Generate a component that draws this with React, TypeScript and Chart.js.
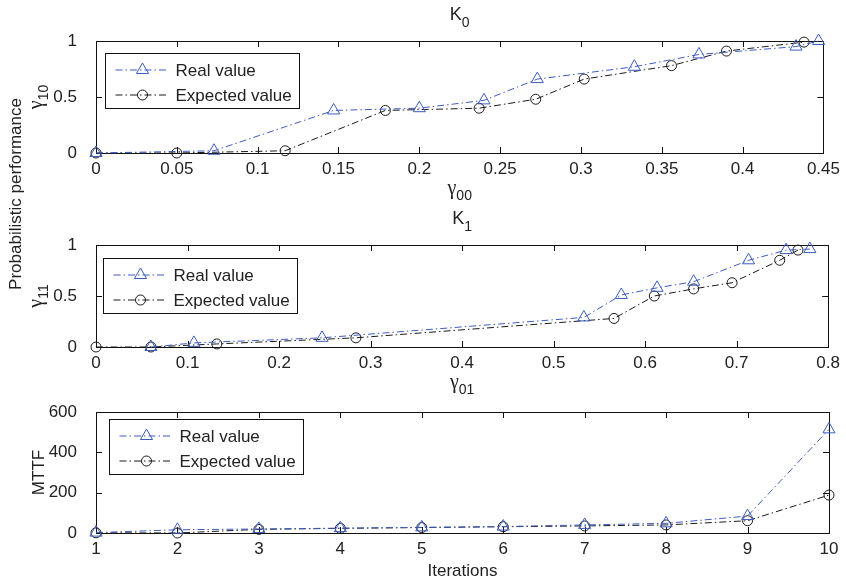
import { useEffect, useRef } from "react";
import { Chart, registerables } from "chart.js";

Chart.register(...registerables);

// ---------------- data ----------------
const seriesLabels = ["Real value", "Expected value"];

// Panel K0
const k0RealX = [0, 0.073, 0.147, 0.2, 0.24, 0.273, 0.333, 0.373, 0.433, 0.447];
const k0RealY = [0, 0.02, 0.38, 0.4, 0.47, 0.66, 0.77, 0.88, 0.95, 1.0];
const k0ExpX = [0, 0.05, 0.117, 0.179, 0.237, 0.272, 0.302, 0.356, 0.39, 0.438];
const k0ExpY = [0, 0, 0.02, 0.38, 0.4, 0.48, 0.66, 0.78, 0.91, 0.99];

// Panel K1
const k1RealX = [0.06, 0.107, 0.247, 0.533, 0.574, 0.613, 0.653, 0.713, 0.754, 0.78];
const k1RealY = [0, 0.04, 0.09, 0.29, 0.51, 0.58, 0.64, 0.85, 0.95, 0.96];
const k1ExpX = [0, 0.06, 0.132, 0.284, 0.566, 0.61, 0.653, 0.695, 0.747, 0.767];
const k1ExpY = [0, 0, 0.03, 0.09, 0.28, 0.5, 0.57, 0.63, 0.85, 0.95];

// Panel MTTF
const iterations = [1, 2, 3, 4, 5, 6, 7, 8, 9, 10];
const mttfReal = [2, 16, 20, 24, 28, 32, 40, 48, 84, 514];
const mttfExp = [1, 0, 18, 23, 27, 31, 35, 40, 61, 188];

// Tick values
const k0XTicks = [0, 0.05, 0.1, 0.15, 0.2, 0.25, 0.3, 0.35, 0.4, 0.45];
const k1XTicks = [0, 0.1, 0.2, 0.3, 0.4, 0.5, 0.6, 0.7, 0.8];
const probYTicks = [0, 0.5, 1];
const iterXTicks = [1, 2, 3, 4, 5, 6, 7, 8, 9, 10];
const mttfYTicks = [0, 200, 400, 600];

// ---------------- style ----------------
const W = 846;
const H = 581;
const PLOT_LEFT = 96;
const PLOT_RIGHT = 829;
const Y_AXIS_W = 60;
const X_AXIS_H = 30;
const FONT = "'Liberation Sans', Arial, Helvetica, sans-serif";
const GREEK = "'Liberation Serif', 'DejaVu Serif', serif";
const TEXT = "#222";
const BLUE = "#3d5cc2";
const BLACK = "#1a1a1a";
const DASH = [7, 3, 1.5, 3];

type Panel = {
  top: number;
  bottom: number;
  xMin: number;
  xMax: number;
  yMin: number;
  yMax: number;
  xTicks: number[];
  yTicks: number[];
  real: { x: number; y: number }[];
  exp: { x: number; y: number }[];
  title?: [string, string];
  xLabel: [string, string];
  yLabel: [string, string];
  legendOff: [number, number];
  sideLabel?: string;
};

const zip = (xs: number[], ys: number[]) => xs.map((x, i) => ({ x, y: ys[i] }));

const panels: Panel[] = [
  {
    top: 41, bottom: 153, xMin: 0, xMax: 0.45, yMin: 0, yMax: 1,
    xTicks: k0XTicks, yTicks: probYTicks,
    real: zip(k0RealX, k0RealY), exp: zip(k0ExpX, k0ExpY),
    title: ["K", "0"], xLabel: ["γ", "00"], yLabel: ["γ", "10"],
    legendOff: [9, 12], sideLabel: "Probabilistic performance",
  },
  {
    top: 245, bottom: 347, xMin: 0, xMax: 0.8, yMin: 0, yMax: 1,
    xTicks: k1XTicks, yTicks: probYTicks,
    real: zip(k1RealX, k1RealY), exp: zip(k1ExpX, k1ExpY),
    title: ["K", "1"], xLabel: ["γ", "01"], yLabel: ["γ", "11"],
    legendOff: [7, 13],
  },
  {
    top: 412, bottom: 533, xMin: 1, xMax: 10, yMin: 0, yMax: 600,
    xTicks: iterXTicks, yTicks: mttfYTicks,
    real: zip(iterations, mttfReal), exp: zip(iterations, mttfExp),
    xLabel: ["Iterations", ""], yLabel: ["MTTF", ""],
    legendOff: [13, 7],
  },
];

function drawSub(
  ctx: CanvasRenderingContext2D, base: string, sub: string,
  x: number, y: number, size: number, subSize: number, subDrop: number, baseFamily: string = FONT,
) {
  ctx.font = `${size}px ${baseFamily}`;
  const wb = ctx.measureText(base).width;
  ctx.font = `${subSize}px ${FONT}`;
  const ws = sub ? ctx.measureText(sub).width : 0;
  const start = x - (wb + ws) / 2;
  ctx.textAlign = "left";
  ctx.textBaseline = "alphabetic";
  ctx.fillStyle = TEXT;
  ctx.font = `${size}px ${baseFamily}`;
  ctx.fillText(base, start, y);
  if (sub) {
    ctx.font = `${subSize}px ${FONT}`;
    ctx.fillText(sub, start + wb, y + subDrop);
  }
}

function drawMarker(ctx: CanvasRenderingContext2D, style: string, x: number, y: number, r: number, color: string) {
  ctx.save();
  ctx.setLineDash([]);
  ctx.strokeStyle = color;
  ctx.lineWidth = 1;
  ctx.beginPath();
  if (style === "triangle") {
    let rad = 0;
    ctx.moveTo(x + Math.sin(rad) * r, y - Math.cos(rad) * r);
    rad += (2 * Math.PI) / 3;
    ctx.lineTo(x + Math.sin(rad) * r, y - Math.cos(rad) * r);
    rad += (2 * Math.PI) / 3;
    ctx.lineTo(x + Math.sin(rad) * r, y - Math.cos(rad) * r);
    ctx.closePath();
  } else {
    ctx.arc(x, y, r, 0, Math.PI * 2);
  }
  ctx.stroke();
  ctx.restore();
}

function makePlugin(p: Panel) {
  return {
    id: "matlabDecor",
    beforeDatasetsDraw(chart: any) {
      const { ctx, chartArea: a, scales } = chart;
      ctx.save();
      ctx.strokeStyle = "#111";
      ctx.lineWidth = 1;
      ctx.setLineDash([]);
      ctx.strokeRect(Math.round(a.left) + 0.5, Math.round(a.top) + 0.5, Math.round(a.right - a.left), Math.round(a.bottom - a.top));
      const TL = 6;
      ctx.beginPath();
      for (const v of p.xTicks) {
        const px = Math.round(scales.x.getPixelForValue(v)) + 0.5;
        ctx.moveTo(px, a.bottom); ctx.lineTo(px, a.bottom - TL);
        ctx.moveTo(px, a.top); ctx.lineTo(px, a.top + TL);
      }
      for (const v of p.yTicks) {
        const py = Math.round(scales.y.getPixelForValue(v)) + 0.5;
        ctx.moveTo(a.left, py); ctx.lineTo(a.left + TL, py);
        ctx.moveTo(a.right, py); ctx.lineTo(a.right - TL, py);
      }
      ctx.stroke();
      ctx.restore();
    },
    afterDraw(chart: any) {
      const { ctx, chartArea: a } = chart;
      const cx = (a.left + a.right) / 2;
      ctx.save();
      // title
      if (p.title) drawSub(ctx, p.title[0], p.title[1], cx, a.top - 21, 18, 14, 7);
      // x label
      if (p.xLabel[1]) drawSub(ctx, p.xLabel[0], p.xLabel[1], cx, a.bottom + 41, 20, 14, 6, GREEK);
      else drawSub(ctx, p.xLabel[0], "", cx, a.bottom + 43, 17, 13, 0);
      // y label rotated
      ctx.save();
      ctx.translate(a.left - 54, (a.top + a.bottom) / 2);
      ctx.rotate(-Math.PI / 2);
      if (p.yLabel[1]) drawSub(ctx, p.yLabel[0], p.yLabel[1], 0, 0, 20, 14, 6, GREEK);
      else drawSub(ctx, p.yLabel[0], "", 0, 2, 17, 13, 0);
      ctx.restore();
      if (p.sideLabel) {
        ctx.save();
        ctx.translate(21, 194);
        ctx.rotate(-Math.PI / 2);
        drawSub(ctx, p.sideLabel, "", 0, 0, 17, 13, 0);
        ctx.restore();
      }
      // legend
      const bx = Math.round(a.left + p.legendOff[0]) + 0.5;
      const by = Math.round(a.top + p.legendOff[1]) + 0.5;
      const bw = 194, bh = 55;
      ctx.fillStyle = "#fff";
      ctx.fillRect(bx, by, bw, bh);
      ctx.strokeStyle = "#111";
      ctx.lineWidth = 1;
      ctx.setLineDash([]);
      ctx.strokeRect(bx, by, bw, bh);
      chart.data.datasets.forEach((ds: any, i: number) => {
        const ry = by + 16.5 + i * 25;
        ctx.save();
        ctx.strokeStyle = ds.borderColor;
        ctx.lineWidth = 1;
        ctx.setLineDash(ds.borderDash);
        ctx.beginPath();
        ctx.moveTo(bx + 10, ry);
        ctx.lineTo(bx + 63, ry);
        ctx.stroke();
        ctx.restore();
        drawMarker(ctx, ds.pointStyle, bx + 37, ry, ds.pointRadius, ds.pointBorderColor);
        ctx.fillStyle = TEXT;
        ctx.font = `17px ${FONT}`;
        ctx.textAlign = "left";
        ctx.textBaseline = "middle";
        ctx.fillText(ds.label, bx + 70, ry + 1);
      });
      ctx.restore();
    },
  };
}

function fmt(v: number) {
  return String(parseFloat(v.toFixed(3)));
}

function makeConfig(p: Panel): any {
  const tickFont = { family: FONT, size: 17 };
  return {
    type: "line",
    data: {
      datasets: [
        {
          label: seriesLabels[0], data: p.real, borderColor: BLUE, borderWidth: 1, borderDash: DASH,
          pointStyle: "triangle", pointRadius: 7, pointBorderColor: BLUE, pointBackgroundColor: "rgba(0,0,0,0)",
          pointBorderWidth: 1, fill: false, tension: 0, clip: false,
        },
        {
          label: seriesLabels[1], data: p.exp, borderColor: BLACK, borderWidth: 1, borderDash: DASH,
          pointStyle: "circle", pointRadius: 5, pointBorderColor: BLACK, pointBackgroundColor: "rgba(0,0,0,0)",
          pointBorderWidth: 1, fill: false, tension: 0, clip: false,
        },
      ],
    },
    options: {
      responsive: false,
      animation: false,
      events: [],
      layout: {
        padding: {
          left: PLOT_LEFT - Y_AXIS_W,
          right: W - PLOT_RIGHT,
          top: p.top,
          bottom: H - p.bottom - X_AXIS_H,
        },
      },
      plugins: { legend: { display: false }, tooltip: { enabled: false }, title: { display: false } },
      scales: {
        x: {
          type: "linear", min: p.xMin, max: p.xMax,
          grid: { display: false, drawTicks: false }, border: { display: false },
          ticks: { font: tickFont, color: TEXT, padding: 6, maxRotation: 0, autoSkip: false, callback: (v: number) => fmt(v) },
          afterBuildTicks: (s: any) => { s.ticks = p.xTicks.map((v) => ({ value: v })); },
          afterFit: (s: any) => { s.height = X_AXIS_H; },
        },
        y: {
          type: "linear", min: p.yMin, max: p.yMax,
          grid: { display: false, drawTicks: false }, border: { display: false },
          ticks: { font: tickFont, color: TEXT, padding: 19, autoSkip: false, callback: (v: number) => fmt(v) },
          afterBuildTicks: (s: any) => { s.ticks = p.yTicks.map((v) => ({ value: v })); },
          afterFit: (s: any) => { s.width = Y_AXIS_W; },
        },
      },
    },
    plugins: [makePlugin(p)],
  };
}

function PanelCanvas({ panel }: { panel: Panel }) {
  const ref = useRef<HTMLCanvasElement | null>(null);
  useEffect(() => {
    if (!ref.current) return;
    const chart = new Chart(ref.current, makeConfig(panel));
    return () => chart.destroy();
  }, [panel]);
  return (
    <canvas
      ref={ref}
      width={W}
      height={H}
      style={{ position: "absolute", left: 0, top: 0, width: W, height: H }}
    />
  );
}

export default function App() {
  return (
    <div style={{ position: "fixed", left: 0, top: 0, width: W, height: H, background: "#fff", overflow: "hidden" }}>
      {panels.map((p, i) => (
        <PanelCanvas key={i} panel={p} />
      ))}
    </div>
  );
}
